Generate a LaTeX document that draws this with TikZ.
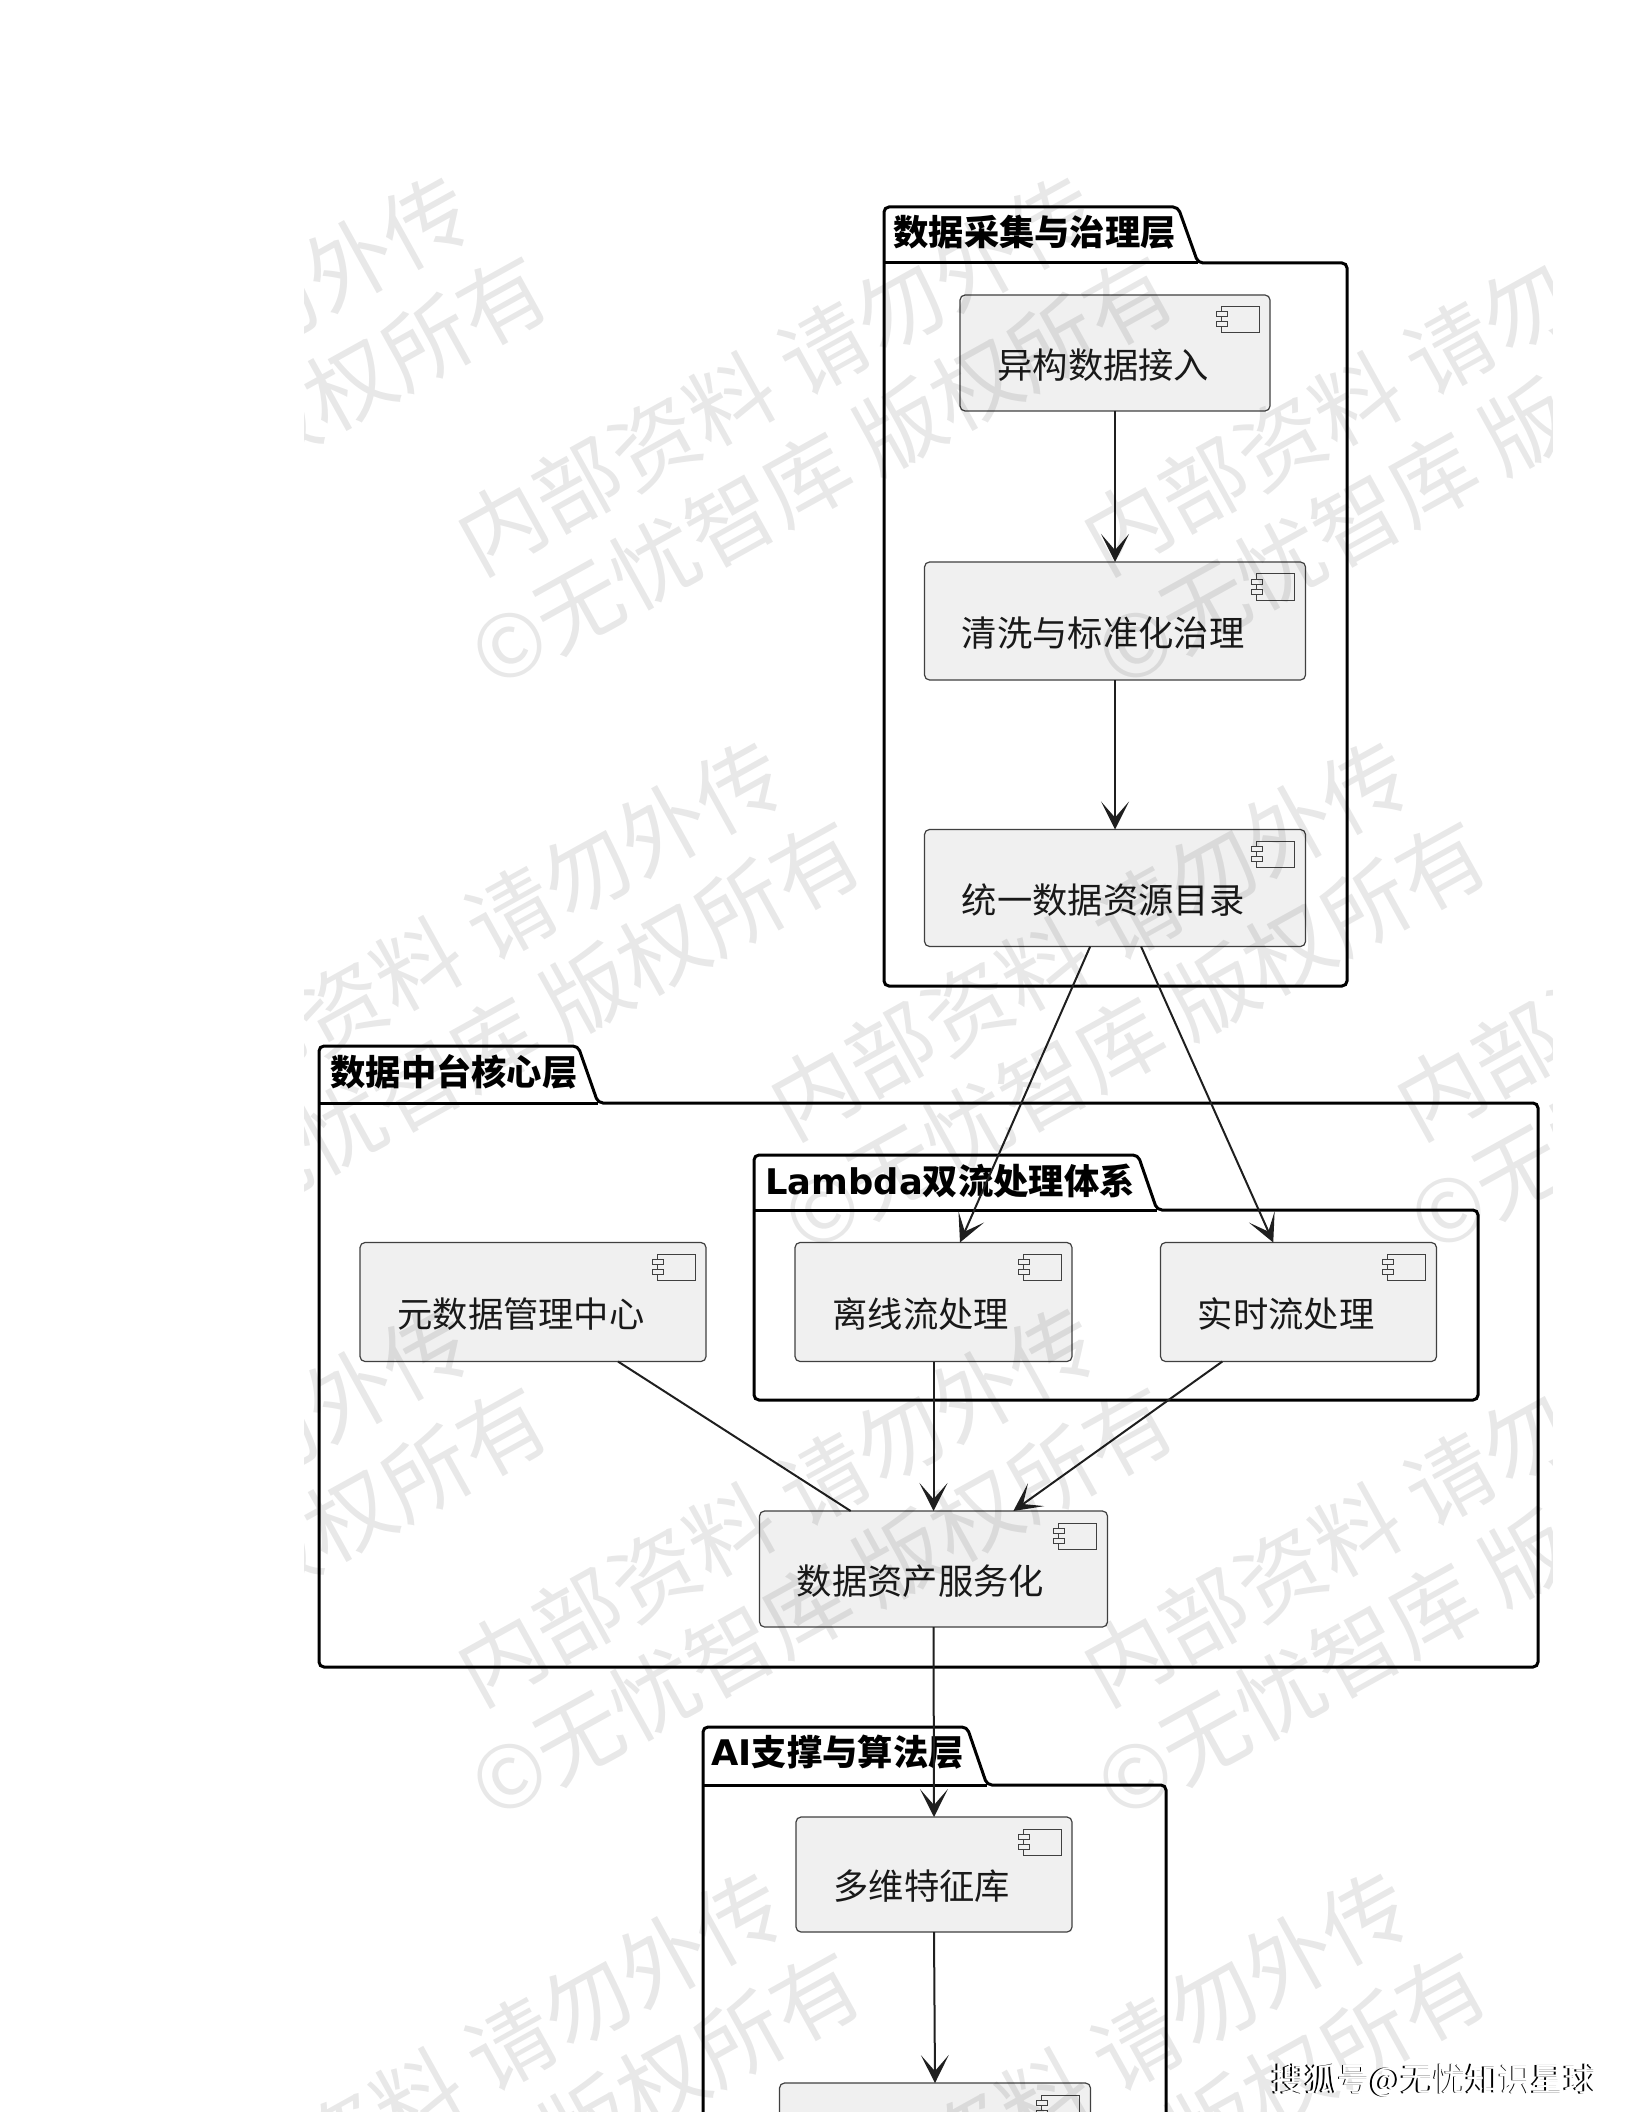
\documentclass[tikz,border=0pt]{standalone}
\usepackage{fontspec}
\setmainfont{Noto Sans CJK SC}
\newfontfamily\latinfont{DejaVu Sans}
\usetikzlibrary{arrows.meta}
\tikzset{
	compbox/.style={draw=black!75, line width=0.6pt, fill=black!6, rounded corners=2.5pt, inner sep=0pt, outer sep=0pt},
	boxtext/.style={anchor=west, inner sep=0pt, text=black!90, font=\fontsize{17.65}{20}\selectfont},
	pkgline/.style={draw=black, line width=1.5pt, rounded corners=2.5pt},
	pkgtitle/.style={anchor=west, inner sep=0pt, font=\fontsize{17.65}{20}\selectfont\bfseries},
	flow/.style={draw=black!88, line width=1pt},
	iconline/.style={draw=black!75, line width=0.5pt},
	wmark/.style={rotate=29, inner sep=0pt, text=black, text opacity=0.09, align=left, font=\fontsize{43.5}{53}\selectfont},
	soho/.style={inner sep=0pt, font=\fontsize{16.3}{18}\selectfont},
}
\begin{document}
\begin{tikzpicture}[x=0.5pt, y=-0.5pt, >={Stealth[length=14pt,width=14pt,inset=8pt]}]
	\clip (0,0) rectangle (1632,2112);
	% layers
	\foreach \lft/\tp/\tabx/\tabr/\hd/\rgt/\bot in {884/207/1178/1198/263/1347/986, 319/1046/578/598/1103/1538/1667, 754/1155/1138/1157/1210/1478/1400, 703/1727/967/987/1785/1166/2300}{
		\draw[pkgline] (\lft,\hd) -- (\lft,\tp) -- (\tabx,\tp) -- (\tabr,\hd) -- (\rgt,\hd) -- (\rgt,\bot) -- (\lft,\bot) -- cycle;
		\draw[pkgline] (\lft,\hd) -- (\tabr,\hd);
	}
	\node[pkgtitle] (collect) at (893,232) {数据采集与治理层};
	\node[pkgtitle] (core) at (330,1072) {数据中台核心层};
	\node[pkgtitle] (lambda) at (765,1181) {{\latinfont Lambda}双流处理体系};
	\node[pkgtitle] (ailayer) at (711,1752) {{\latinfont AI}支撑与算法层};
	% components
	\foreach \n/\cx/\cy/\w/\h/\txt in {yigou/1115/353/310/116/异构数据接入, qingxi/1115/621/381/118/清洗与标准化治理, tongyi/1115/888/381/117/统一数据资源目录, yuanshuju/533/1302/346/119/元数据管理中心, lixian/933.5/1302/277/119/离线流处理, shishi/1298.5/1302/276/119/实时流处理, zichan/933.5/1569/348/116/数据资产服务化, tezheng/934/1874.5/276/115/多维特征库, moxing/935/2141/311/116/{}}{
		\node[compbox, minimum width=\w*0.5pt, minimum height=\h*0.5pt] (\n) at (\cx,\cy) {};
		\node[boxtext] (\n-t) at ([shift={(37,12)}]\n.west) {\txt};
		\draw[iconline] ([shift={(-49,12)}]\n.north east) rectangle ([shift={(-11,38)}]\n.north east);
		\draw[iconline, fill=black!6] ([shift={(-54,17)}]\n.north east) rectangle ([shift={(-43,22)}]\n.north east);
		\draw[iconline, fill=black!6] ([shift={(-54,27)}]\n.north east) rectangle ([shift={(-43,32)}]\n.north east);
	}
	% connectors
	\draw[flow,->] (yigou.south) -- (qingxi.north);
	\draw[flow,->] (qingxi.south) -- (tongyi.north);
	\draw[flow,->] (tongyi.-113.7) -- (lixian.66);
	\draw[flow,->] (tongyi.-66.5) -- (shishi.113.6);
	\draw[flow,->] (lixian.south) -- (zichan.north);
	\draw[flow,->] (shishi.-142.4) -- (zichan.36.3);
	\draw[flow] (yuanshuju.-35.2) -- (zichan.145.7);
	\draw[flow,->] (zichan.south) -- (tezheng.north);
	\draw[flow,->] (tezheng.south) -- (moxing.north);
	% watermark
	\begin{scope}
		\clip (304,0) rectangle (1552,2112);
		\foreach \i/\mx/\my in {1/-626/0, 2/0/0, 3/626/0, 4/-313/565, 5/313/565, 6/939/565, 7/-626/1131, 8/0/1131, 9/626/1131, 10/-313/1696, 11/313/1696, 12/939/1696}{
			\node[wmark] (wm\i) at ({796+\mx},{424+\my}) {\hspace*{0.5em}内部资料 请勿外传\\©无忧智库 版权所有};
		}
	\end{scope}
	\node[soho, text=black] (sohoback) at (1433,2081) {搜狐号@无忧知识星球};
	\node[soho, text=white] (soho) at (1434.5,2081) {搜狐号@无忧知识星球};
\end{tikzpicture}
\end{document}
